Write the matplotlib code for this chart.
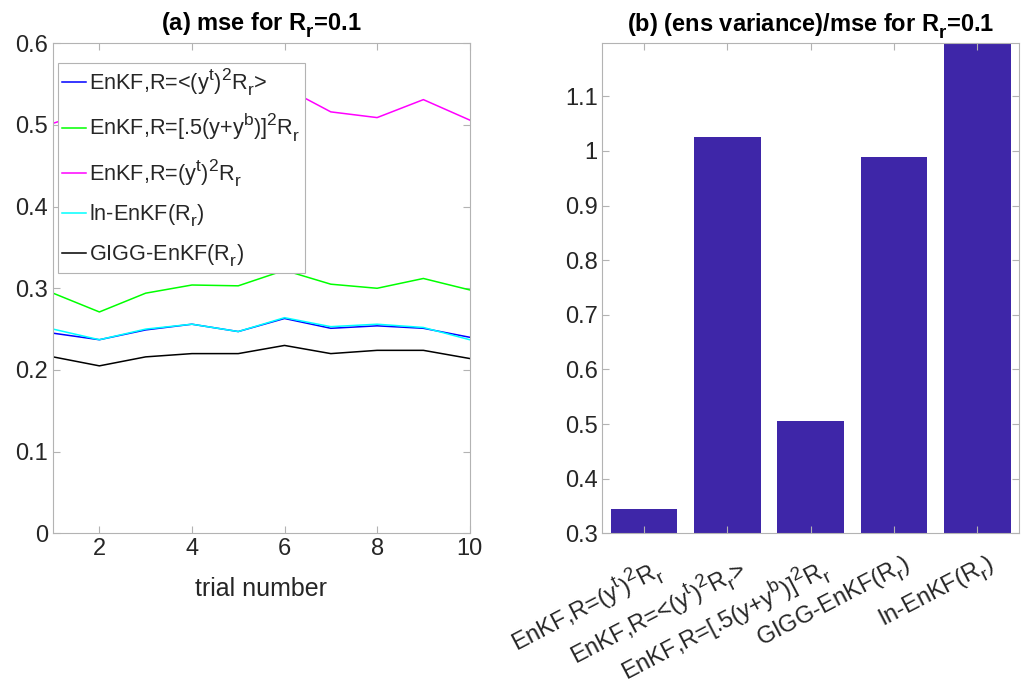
import matplotlib
matplotlib.use("Agg")
import matplotlib.pyplot as plt
import matplotlib.transforms as mtransforms
import matplotlib._mathtext as _mt
import numpy as np

plt.rcParams['font.family'] = ['Liberation Sans', 'DejaVu Sans']
plt.rcParams['mathtext.default'] = 'regular'
# MATLAB-like larger, more offset sub/superscripts
_mt.SHRINK_FACTOR = 0.8
_mt.FontConstantsBase.sub1 = 0.55
_mt.FontConstantsBase.sub2 = 0.6
_mt.FontConstantsBase.sup1 = 0.75

trial = [1, 2, 3, 4, 5, 6, 7, 8, 9, 10]
mse_avg = [0.245, 0.237, 0.249, 0.256, 0.247, 0.263, 0.251, 0.254, 0.251, 0.240]
mse_half = [0.294, 0.271, 0.294, 0.304, 0.303, 0.322, 0.305, 0.300, 0.312, 0.298]
mse_true = [0.502, 0.520, 0.530, 0.540, 0.530, 0.546, 0.516, 0.509, 0.531, 0.506]
mse_ln = [0.250, 0.237, 0.250, 0.256, 0.247, 0.264, 0.253, 0.256, 0.252, 0.237]
mse_gigg = [0.216, 0.205, 0.216, 0.220, 0.220, 0.230, 0.220, 0.224, 0.224, 0.214]

line_labels = [r'EnKF,R=<(y$^t$)$^2$R$_r$>',
               r'EnKF,R=[.5(y+y$^b$)]$^2$R$_r$',
               r'EnKF,R=(y$^t$)$^2$R$_r$',
               r'ln-EnKF(R$_r$)',
               r'GIGG-EnKF(R$_r$)']

bar_labels = [r'EnKF,R=(y$^t$)$^2$R$_r$',
              r'EnKF,R=<(y$^t$)$^2$R$_r$>',
              r'EnKF,R=[.5(y+y$^b$)]$^2$R$_r$',
              r'GIGG-EnKF(R$_r$)',
              r'ln-EnKF(R$_r$)']
bar_values = [0.344, 1.025, 0.505, 0.988, 1.197]

txt = '#262626'
spine = '#b3b3b3'

fig = plt.figure(figsize=(10.21, 6.98), dpi=100)
ax1 = fig.add_axes([0.052, 0.236, 0.408, 0.702])
ax2 = fig.add_axes([0.590, 0.236, 0.408, 0.702])

colors = ['#0000ff', '#00ff00', '#ff00ff', '#00ffff', '#000000']
series = [mse_avg, mse_half, mse_true, mse_ln, mse_gigg]
for s, c, lab in zip(series, colors, line_labels):
    ax1.plot(trial, s, color=c, lw=1.1, label=lab)

ax1.set_xlim(1, 10)
ax1.set_ylim(0, 0.6)
ax1.set_xticks([2, 4, 6, 8, 10])
ax1.set_yticks([0, 0.1, 0.2, 0.3, 0.4, 0.5, 0.6])
ax1.set_yticklabels(['0', '0.1', '0.2', '0.3', '0.4', '0.5', '0.6'])
ax1.set_xlabel('trial number', fontsize=18, color=txt, labelpad=12)
ax1.set_title(r'(a) mse for R$_r$=0.1', fontsize=17, fontweight='bold',
              color='black', pad=9)

leg = ax1.legend(loc='upper left', bbox_to_anchor=(0.0125, 0.96), fontsize=15.6,
                 frameon=True, fancybox=False, framealpha=1, edgecolor=spine,
                 handlelength=1.1, handletextpad=0.15, borderpad=0.18,
                 labelspacing=0.62, borderaxespad=0)
leg.get_frame().set_linewidth(0.8)
for t in leg.get_texts():
    t.set_color(txt)

x = np.arange(1, len(bar_values) + 1)
ax2.bar(x, bar_values, width=0.8, color='#3e26a8')
ax2.set_xlim(0.5, 5.5)
ax2.set_ylim(0.3, 1.197)
ax2.set_yticks([0.3, 0.4, 0.5, 0.6, 0.7, 0.8, 0.9, 1.0, 1.1])
ax2.set_yticklabels(['0.3', '0.4', '0.5', '0.6', '0.7', '0.8', '0.9', '1', '1.1'])
ax2.set_xticks(x)
ax2.set_xticklabels([])
blend = mtransforms.blended_transform_factory(ax2.transData, ax2.transAxes)
off = mtransforms.ScaledTranslation(9 / 100, -19 / 100, fig.dpi_scale_trans)
for xi, lab in zip(x, bar_labels):
    ax2.text(xi, 0, lab, transform=blend + off, rotation=27.5, ha='right',
             va='top', rotation_mode='anchor', fontsize=17, color=txt,
             clip_on=False)
ax2.set_title(r'(b) (ens variance)/mse for R$_r$=0.1', fontsize=17,
              fontweight='bold', color='black', pad=8)

for ax in (ax1, ax2):
    for sp in ax.spines.values():
        sp.set_color(spine)
        sp.set_linewidth(0.8)
    ax.tick_params(direction='in', top=True, right=True, length=5,
                   color=spine, labelsize=17, labelcolor=txt, width=0.8)

fig.savefig('out.png', dpi=100)
